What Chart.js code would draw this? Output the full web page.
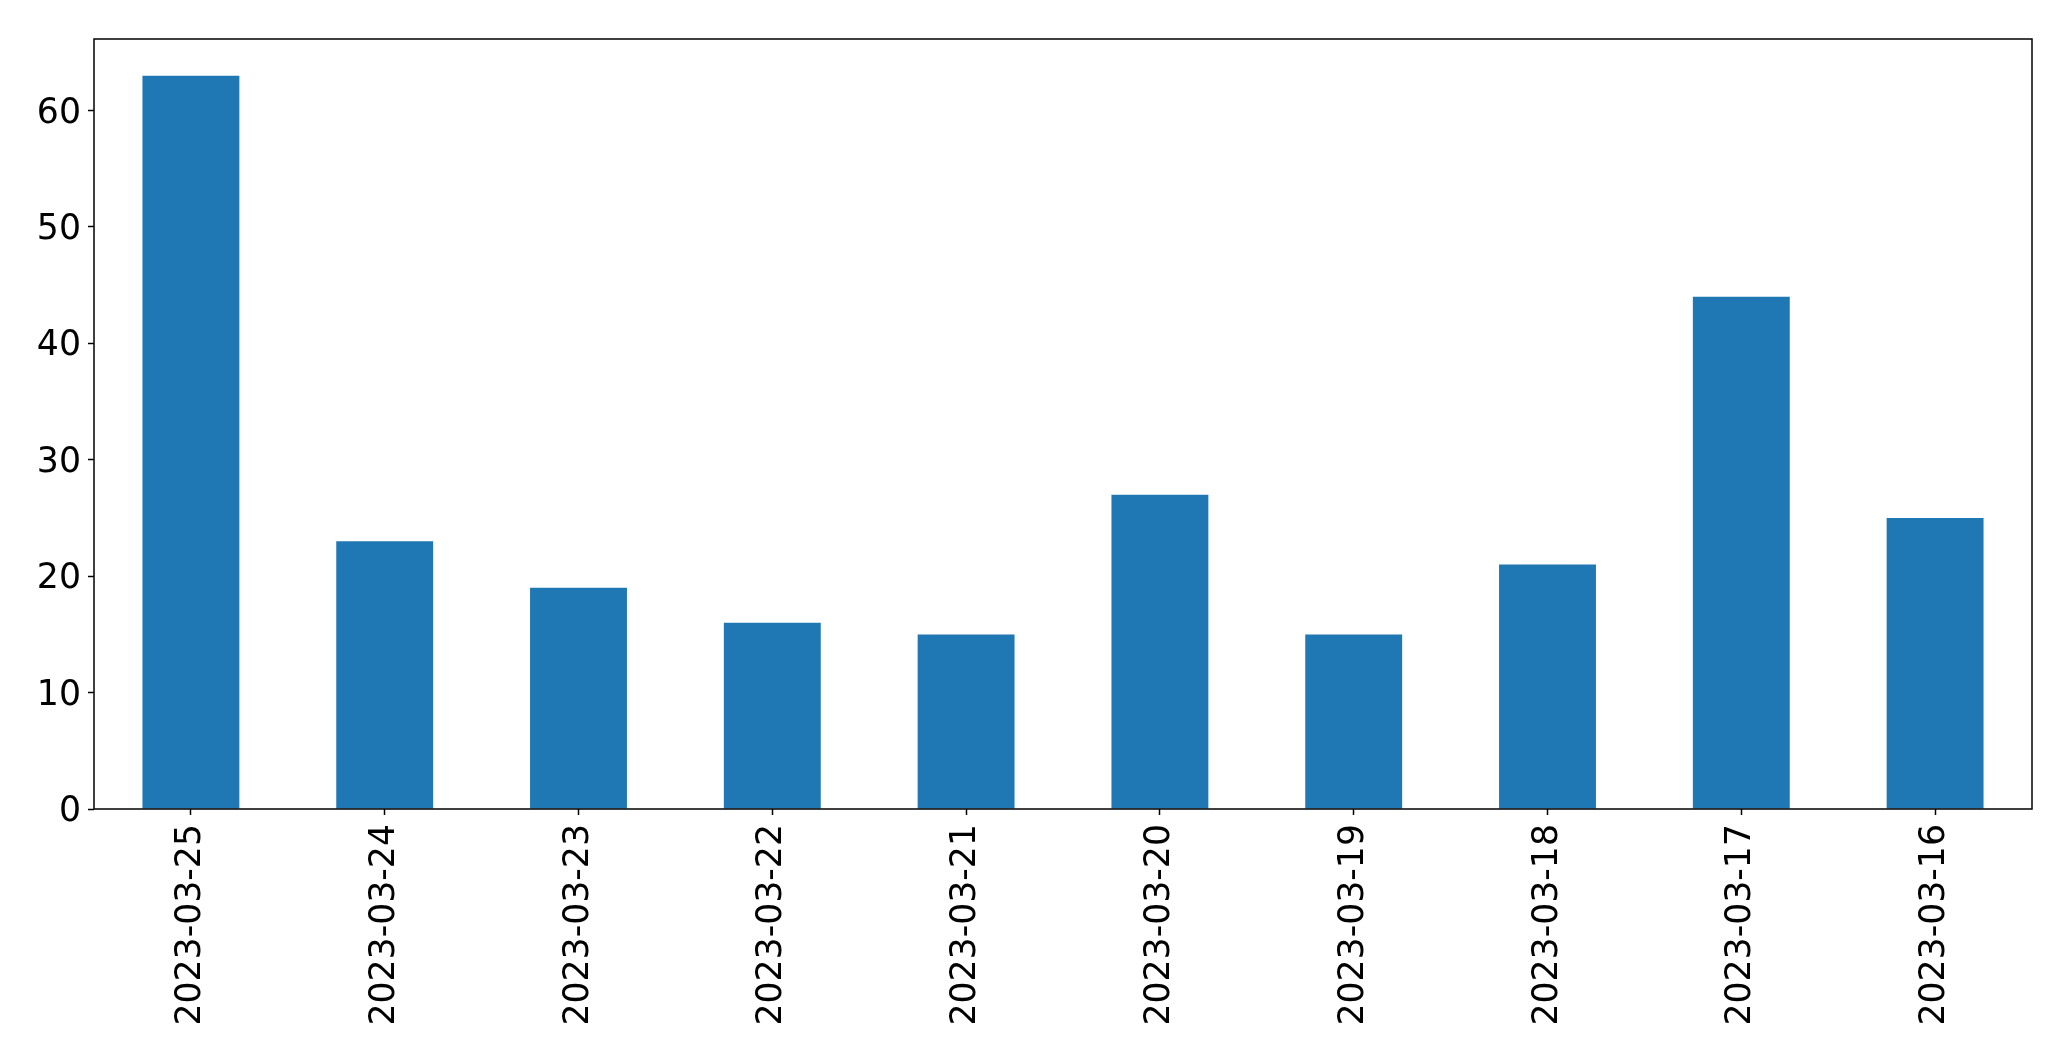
<!DOCTYPE html>
<html>
<head>
<meta charset="utf-8">
<script src="https://cdn.jsdelivr.net/npm/chart.js@4.4.0/dist/chart.umd.min.js"></script>
<style>
  html, body { margin: 0; padding: 0; background: #fff; }
  canvas { display: block; }
</style>
</head>
<body>
<canvas id="chart1" width="2071" height="1061"></canvas>
<script>
// data
var dates = ['2023-03-25', '2023-03-24', '2023-03-23', '2023-03-22', '2023-03-21',
             '2023-03-20', '2023-03-19', '2023-03-18', '2023-03-17', '2023-03-16'];
var counts = [63, 23, 19, 16, 15, 27, 15, 21, 44, 25];
var yTicks = [0, 10, 20, 30, 40, 50, 60];

var tickFont = { family: 'DejaVu Sans', size: 34.7 };

// full frame round the plot area
var frameBox = {
  id: 'frameBox',
  afterDraw: function(chart) {
    var a = chart.chartArea, c = chart.ctx;
    c.save();
    c.strokeStyle = '#000';
    c.lineWidth = 1.5;
    c.strokeRect(a.left, a.top, a.right - a.left, a.bottom - a.top);
    c.restore();
  }
};

var ctx = document.getElementById('chart1').getContext('2d');
var myChart = new Chart(ctx, {
  type: 'bar',
  data: {
    labels: dates,
    datasets: [{
      data: counts,
      backgroundColor: '#1f77b4',
      borderWidth: 0,
      barPercentage: 0.5,
      categoryPercentage: 1.0
    }]
  },
  options: {
    responsive: false,
    animation: false,
    layout: { padding: { top: 39, right: 39, left: 0, bottom: 0 } },
    plugins: {
      legend: { display: false },
      tooltip: { enabled: false }
    },
    scales: {
      x: {
        offset: true,
        grid: { display: true, offset: false, drawOnChartArea: false, tickLength: 6, tickColor: '#000', tickWidth: 1.5 },
        border: { display: false },
        ticks: {
          color: '#000',
          font: tickFont,
          minRotation: 90,
          maxRotation: 90,
          autoSkip: false,
          padding: 9
        },
        afterFit: function(scale) { scale.height = 252; }
      },
      y: {
        min: 0,
        max: 66.15,
        grid: { display: true, drawOnChartArea: false, tickLength: 6, tickColor: '#000', tickWidth: 1.5 },
        border: { display: false },
        ticks: {
          color: '#000',
          font: tickFont,
          stepSize: 10,
          includeBounds: false,
          padding: 7,
          labelOffset: 3
        },
        afterBuildTicks: function(scale) {
          scale.ticks = yTicks.map(function(v) { return { value: v }; });
        },
        afterFit: function(scale) { scale.width = 94; }
      }
    }
  },
  plugins: [frameBox]
});
</script>
</body>
</html>
